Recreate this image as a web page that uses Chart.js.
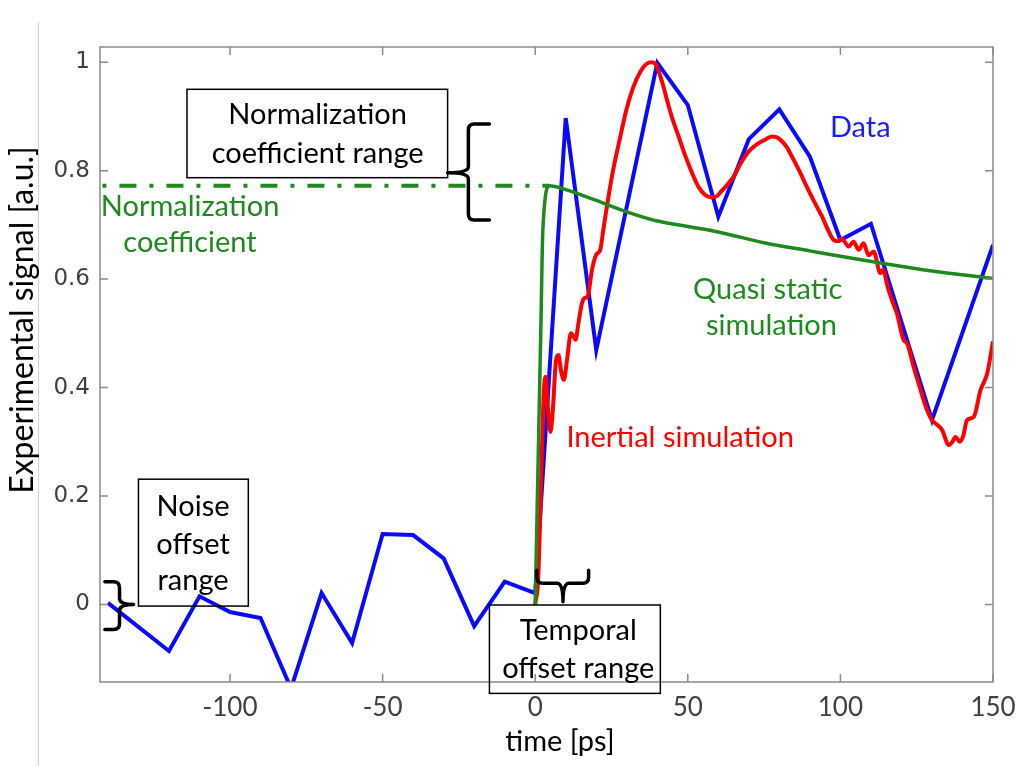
<!DOCTYPE html>
<html>
<head>
<meta charset="utf-8">
<script src="https://cdn.jsdelivr.net/npm/chart.js@4.4.1/dist/chart.umd.min.js"></script>
<style>
  html, body { margin: 0; padding: 0; background: #ffffff; }
  canvas { display: block; }
</style>
</head>
<body>
<canvas id="c" width="1016" height="766"></canvas>
<script>
// ---- axis ticks ----
const xTicks = [-100, -50, 0, 50, 100, 150];
const yTicks = [0, 0.2, 0.4, 0.6, 0.8, 1];

// ---- measured signal (Data) ----
const dataTime  = [-140, -120, -110, -100, -90, -80, -70, -60, -50, -40, -30, -20, -10, 0,
                   10, 20, 40, 50, 60, 70, 80, 90, 100, 110, 130, 150];
const dataValue = [0.003, -0.086, 0.015, -0.014, -0.025, -0.155, 0.021, -0.071, 0.130, 0.128, 0.085, -0.040, 0.042, 0.021,
                   0.897, 0.469, 0.999, 0.921, 0.715, 0.858, 0.913, 0.826, 0.672, 0.702, 0.340, 0.663];

// ---- inertial simulation ----
const inertialTime = [0, 1.0, 2.2, 2.8, 3.4, 4.2, 5.0, 5.8, 6.8, 7.6, 8.5, 9.4, 10.4, 11.7, 12.5, 13.2, 14.2,
  15.3, 16.2, 17.2, 18.6, 20, 21.3, 22.3, 23.5, 25.5, 27.9, 30, 32.2, 34.5, 36.5, 38, 39.5, 41.5, 43.2,
  45, 47, 49, 51.9, 53.5, 55.7, 57.5, 59.3, 61, 62.5, 65, 67.5, 69.9, 72.5, 75, 77.6, 79, 80.5, 82.5,
  84.1, 86.5, 89, 91.5, 94, 96, 97.8, 99, 100.5, 101.5, 102.7, 104.3, 106, 107.6, 109.2, 110.9, 113.1,
  114, 115.5, 116.9, 118.5, 120.7, 121.8, 124, 125.6, 128.4, 130, 131.1, 133.3, 135.5, 136.7, 137.7,
  139.1, 140.2, 141.5, 143.7, 145.9, 148.1, 150];
const inertialValue = [0, 0.05, 0.285, 0.39, 0.42, 0.36, 0.318, 0.36, 0.45, 0.46, 0.43, 0.414, 0.45, 0.50, 0.495, 0.488, 0.52,
  0.555, 0.565, 0.568, 0.617, 0.645, 0.654, 0.69, 0.734, 0.80, 0.863, 0.915, 0.955, 0.983, 0.997, 1.0, 0.996, 0.965, 0.930,
  0.895, 0.863, 0.83, 0.789, 0.77, 0.755, 0.751, 0.752, 0.762, 0.771, 0.789, 0.815, 0.835, 0.848, 0.856, 0.863, 0.862, 0.856, 0.843,
  0.826, 0.80, 0.770, 0.742, 0.715, 0.69, 0.672, 0.67, 0.675, 0.668, 0.660, 0.669, 0.654, 0.666, 0.644, 0.651, 0.611,
  0.617, 0.585, 0.561, 0.537, 0.488, 0.482, 0.438, 0.408, 0.358, 0.340, 0.334, 0.322, 0.294, 0.30, 0.309,
  0.30, 0.31, 0.34, 0.346, 0.395, 0.426, 0.485];

// ---- quasi static simulation ----
const normCoef = 0.772;
const quasiTime  = [0, 1.9, 2.5, 4.7, 10, 20, 30, 40, 50, 60, 75, 90, 100, 115, 130, 150];
const quasiValue = [0, 0.524, 0.69, normCoef, 0.765, 0.745, 0.724, 0.707, 0.697, 0.687, 0.667, 0.652, 0.642, 0.628, 0.615, 0.601];

// ---- normalization coefficient guide line ----
const normLineTime = [-141.8, 4.7];
const normLineValue = [normCoef, normCoef];

const pts = (xs, ys) => xs.map((t, i) => ({ x: t, y: ys[i] }));

const BLUE = '#0a0aff';
const RED = '#ff0000';
const GREEN = '#1e8a1e';
const AXIS_GRAY = '#8a8a8a';
const TEXT_FONT = 'Lato, "Open Sans", sans-serif';

// frame, inward ticks, annotations
const decorations = {
  id: 'decorations',
  beforeDraw(chart) {
    const ctx = chart.ctx;
    ctx.save();
    ctx.strokeStyle = '#d2d2d2';
    ctx.lineWidth = 1;
    ctx.beginPath();
    ctx.moveTo(38.5, 22);
    ctx.lineTo(38.5, 766);
    ctx.stroke();
    ctx.restore();
  },
  afterDatasetsDraw(chart) {
    const { ctx, chartArea: a, scales: { x, y } } = chart;
    const X = v => x.getPixelForValue(v);
    const Y = v => y.getPixelForValue(v);

    ctx.save();
    // axes box
    ctx.strokeStyle = AXIS_GRAY;
    ctx.lineWidth = 1.5;
    ctx.strokeRect(a.left, a.top, a.right - a.left, a.bottom - a.top);
    // inward tick marks on all four sides
    const tl = 8;
    ctx.beginPath();
    xTicks.forEach(v => {
      const p = X(v);
      ctx.moveTo(p, a.bottom); ctx.lineTo(p, a.bottom - tl);
      ctx.moveTo(p, a.top); ctx.lineTo(p, a.top + tl);
    });
    yTicks.forEach(v => {
      const p = Y(v);
      ctx.moveTo(a.left, p); ctx.lineTo(a.left + tl, p);
      ctx.moveTo(a.right, p); ctx.lineTo(a.right - tl, p);
    });
    ctx.stroke();

    // annotation boxes
    ctx.strokeStyle = '#000000';
    ctx.lineWidth = 1.5;
    const box = (t1, v1, t2, v2) => {
      ctx.strokeRect(X(t1), Y(v1), X(t2) - X(t1), Y(v2) - Y(v1));
    };
    box(-114.1, 0.950, -28.7, 0.787);
    box(-130.0, 0.231, -94.0, -0.003);
    box(-15.0, -0.001, 41.0, -0.164);

    // curly braces
    const brace = (horizontal, spine, from, to, mid, hook, tip) => {
      const P = (along, perp) => horizontal ? [along, perp] : [perp, along];
      const r = 6;
      const sh = Math.sign(hook - spine);
      const dir = Math.sign(to - from);
      ctx.beginPath();
      ctx.moveTo(...P(from, hook));
      ctx.lineTo(...P(from, spine + sh * r));
      ctx.quadraticCurveTo(...P(from, spine), ...P(from + dir * r, spine));
      ctx.lineTo(...P(mid - dir * r, spine));
      ctx.quadraticCurveTo(...P(mid, spine), ...P(mid, tip));
      ctx.moveTo(...P(mid, tip));
      ctx.quadraticCurveTo(...P(mid, spine), ...P(mid + dir * r, spine));
      ctx.lineTo(...P(to - dir * r, spine));
      ctx.quadraticCurveTo(...P(to, spine), ...P(to, spine + sh * r));
      ctx.lineTo(...P(to, hook));
      ctx.stroke();
    };
    ctx.lineWidth = 3.5;
    ctx.lineJoin = 'round';
    ctx.lineCap = 'round';
    // normalization coefficient range
    brace(false, X(-21.9), Y(0.886), Y(0.709), Y(0.796), X(-15.0), X(-28.7));
    // noise offset range
    brace(false, X(-136.2), Y(0.042), Y(-0.046), Y(0.0), X(-141.0), X(-131.6));
    // temporal offset range
    brace(true, Y(0.039), X(0.56), X(17.5), X(9.1), Y(0.063), Y(0.005));

    // annotation texts
    const label = (text, t, v, color) => {
      ctx.fillStyle = color;
      ctx.fillText(text, X(t), Y(v));
    };
    ctx.font = '29px ' + TEXT_FONT;
    ctx.textAlign = 'center';
    ctx.textBaseline = 'middle';
    label('Normalization', -71.3, 0.903, '#000000');
    label('coefficient range', -71.3, 0.831, '#000000');
    label('Noise', -112.1, 0.181, '#000000');
    label('offset', -112.1, 0.111, '#000000');
    label('range', -112.1, 0.043, '#000000');
    label('Temporal', 14.1, -0.049, '#000000');
    label('offset range', 14.1, -0.118, '#000000');
    label('Normalization', -113.1, 0.734, GREEN);
    label('coefficient', -113.1, 0.667, GREEN);
    label('Data', 106.5, 0.880, '#1a1aff');
    label('Quasi static', 76.2, 0.580, GREEN);
    label('simulation', 77.4, 0.515, GREEN);
    label('Inertial simulation', 47.5, 0.307, RED);
    ctx.restore();
  },
  afterDraw(chart) {
    const { ctx } = chart;
    ctx.save();
    ctx.fillStyle = '#000000';
    ctx.textAlign = 'center';
    ctx.textBaseline = 'middle';
    ctx.font = '29px ' + TEXT_FONT;
    ctx.fillText('time [ps]', 560, 742);
    ctx.translate(23, 320);
    ctx.rotate(-Math.PI / 2);
    ctx.font = '32px ' + TEXT_FONT;
    ctx.fillText('Experimental signal [a.u.]', 0, 0);
    ctx.restore();
  }
};

new Chart(document.getElementById('c'), {
  type: 'line',
  data: {
    datasets: [
      {
        label: 'Normalization coefficient',
        data: pts(normLineTime, normLineValue),
        borderColor: GREEN,
        borderWidth: 4,
        borderDash: [4, 13, 17, 13],
        borderCapStyle: 'butt',
        pointRadius: 0,
        tension: 0
      },
      {
        label: 'Quasi static simulation',
        data: pts(quasiTime, quasiValue),
        borderColor: GREEN,
        borderWidth: 3.5,
        pointRadius: 0,
        cubicInterpolationMode: 'monotone'
      },
      {
        label: 'Inertial simulation',
        data: pts(inertialTime, inertialValue),
        borderColor: RED,
        borderWidth: 4,
        pointRadius: 0,
        cubicInterpolationMode: 'monotone'
      },
      {
        label: 'Data',
        data: pts(dataTime, dataValue),
        borderColor: BLUE,
        borderWidth: 4,
        pointRadius: 0,
        tension: 0
      }
    ]
  },
  options: {
    responsive: false,
    animation: false,
    devicePixelRatio: 1,
    layout: { padding: { top: 47, right: 23, left: 0, bottom: 0 } },
    plugins: { legend: { display: false }, tooltip: { enabled: false } },
    scales: {
      x: {
        type: 'linear',
        min: -142.6,
        max: 150,
        grid: { display: false, drawTicks: false },
        border: { display: false },
        afterBuildTicks: s => { s.ticks = xTicks.map(v => ({ value: v })); },
        afterFit: s => { s.height = 84; s.paddingLeft = 0; s.paddingRight = 0; },
        ticks: {
          padding: 10,
          color: '#404040',
          font: { family: TEXT_FONT, size: 26 },
          callback: v => String(v)
        }
      },
      y: {
        type: 'linear',
        min: -0.143,
        max: 1.028,
        grid: { display: false, drawTicks: false },
        border: { display: false },
        afterBuildTicks: s => { s.ticks = yTicks.map(v => ({ value: v })); },
        afterFit: s => { s.width = 100; s.paddingTop = 0; s.paddingBottom = 0; },
        ticks: {
          padding: 10,
          color: '#404040',
          font: { family: '"DejaVu Sans", sans-serif', size: 23 },
          callback: v => String(v)
        }
      }
    }
  },
  plugins: [decorations]
});
</script>
</body>
</html>
